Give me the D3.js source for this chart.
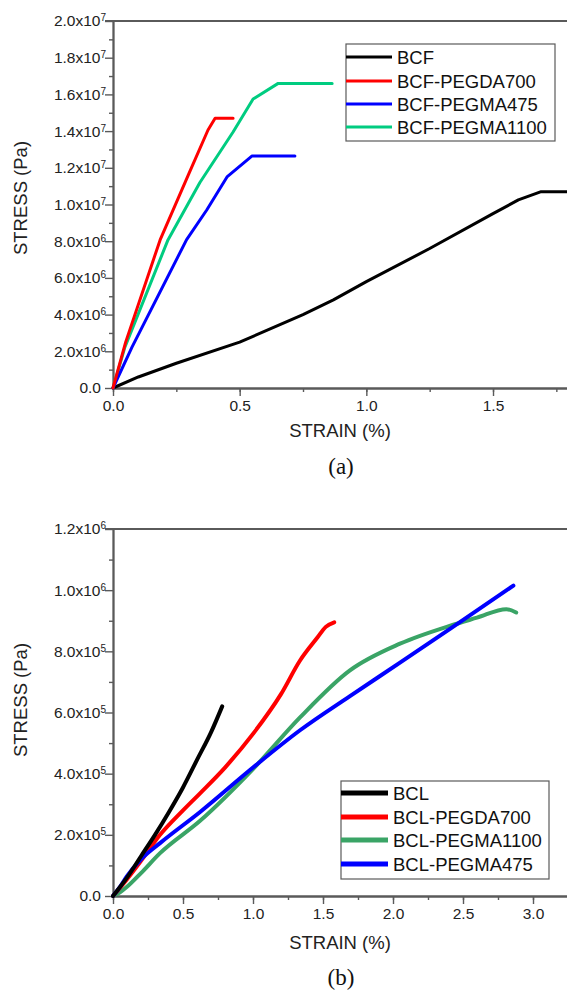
<!DOCTYPE html>
<html><head><meta charset="utf-8">
<script src="https://cdn.jsdelivr.net/npm/d3@7"></script>
<style>
html,body{margin:0;padding:0;background:#fff;}
svg{display:block;font-family:"Liberation Sans",Arial,sans-serif;}
</style></head>
<body>
<svg id="chart" width="567" height="990"></svg>
<script>
// ---------- DATA (a) ----------
const seriesA = ["BCF","BCF-PEGDA700","BCF-PEGMA475","BCF-PEGMA1100"];
const colorsA = ["#000000","#ff0000","#0000ff","#00cc80"];
const bcfStrain = [0,0.1,0.25,0.5,0.75,0.87,1.0,1.25,1.5,1.6,1.69,1.8];
const bcfStress = [0,0.6e6,1.35e6,2.5e6,4.0e6,4.8e6,5.8e6,7.6e6,9.5e6,1.025e7,1.07e7,1.07e7];
const pegda700Strain = [0,0.05,0.186,0.3,0.375,0.403,0.474];
const pegda700Stress = [0,2.5e6,8.07e6,1.17e7,1.406e7,1.47e7,1.47e7];
const pegma475Strain = [0,0.075,0.29,0.37,0.45,0.548,0.718];
const pegma475Stress = [0,2.23e6,8.07e6,9.7e6,1.15e7,1.264e7,1.264e7];
const pegma1100Strain = [0,0.047,0.217,0.343,0.474,0.553,0.652,0.865];
const pegma1100Stress = [0,2.23e6,8.07e6,1.12e7,1.395e7,1.575e7,1.66e7,1.66e7];
const xTicksA = [0,0.5,1.0,1.5];
const xTickLabelsA = ["0.0","0.5","1.0","1.5"];
const yTicksA = [0,2e6,4e6,6e6,8e6,1e7,1.2e7,1.4e7,1.6e7,1.8e7,2e7];
const yTickMantA = ["0.0","2.0","4.0","6.0","8.0","1.0","1.2","1.4","1.6","1.8","2.0"];
const yTickExpA  = ["","6","6","6","6","7","7","7","7","7","7"];

// ---------- DATA (b) ----------
const seriesB = ["BCL","BCL-PEGDA700","BCL-PEGMA1100","BCL-PEGMA475"];
const colorsB = ["#000000","#ff0000","#3aa466","#0000ff"];
const bclStrain = [0,0.1,0.2,0.3,0.4,0.5,0.6,0.7,0.78];
const bclStress = [0,0.6e5,1.3e5,2.0e5,2.75e5,3.55e5,4.45e5,5.35e5,6.2e5];
const bclDa700Strain = [0,0.1,0.2,0.336,0.5,0.62,0.8,1.0,1.2,1.336,1.46,1.52,1.58];
const bclDa700Stress = [0,0.55e5,1.15e5,2.0e5,2.8e5,3.35e5,4.2e5,5.3e5,6.6e5,7.7e5,8.45e5,8.8e5,8.95e5];
const bclMa1100Strain = [0,0.05,0.1,0.2,0.336,0.62,1.0,1.336,1.69,2.05,2.41,2.6,2.81,2.88];
const bclMa1100Stress = [0,0.12e5,0.3e5,0.75e5,1.4e5,2.45e5,4.15e5,5.84e5,7.37e5,8.25e5,8.84e5,9.1e5,9.38e5,9.27e5];
const bclMa475Strain = [0,0.05,0.1,0.2,0.336,0.62,1.0,1.336,1.69,2.05,2.41,2.86];
const bclMa475Stress = [0,0.3e5,0.65e5,1.2e5,1.73e5,2.74e5,4.2e5,5.42e5,6.53e5,7.63e5,8.74e5,1.015e6];
const xTicksB = [0,0.5,1.0,1.5,2.0,2.5,3.0];
const xTickLabelsB = ["0.0","0.5","1.0","1.5","2.0","2.5","3.0"];
const yTicksB = [0,2e5,4e5,6e5,8e5,1e6,1.2e6];
const yTickMantB = ["0.0","2.0","4.0","6.0","8.0","1.0","1.2"];
const yTickExpB  = ["","5","5","5","5","6","6"];

// ---------- DRAW ----------
const svg = d3.select("#chart");
const AX = "#5a5a5a";

function panel(cfg){
  const g = svg.append("g").attr("transform",`translate(${cfg.left},${cfg.top})`);
  const x = d3.scaleLinear().domain(cfg.xDomain).range([0,cfg.w]);
  const y = d3.scaleLinear().domain(cfg.yDomain).range([cfg.h,0]);

  g.append("line").attr("x1",-8).attr("x2",cfg.w).attr("y1",0).attr("y2",0)
    .attr("stroke",AX).attr("stroke-width",1.8);

  const xMinor = [];
  for(let v=0; v<=cfg.xDomain[1]+1e-9; v+=cfg.xMinorStep/2) xMinor.push(+v.toFixed(4));
  const yMinor = [];
  for(let i=0;i<cfg.yTicks.length-1;i++) yMinor.push((cfg.yTicks[i]+cfg.yTicks[i+1])/2);

  const gxm = g.append("g").attr("transform",`translate(0,${cfg.h})`)
    .call(d3.axisBottom(x).tickValues(xMinor).tickSize(4).tickSizeOuter(0).tickFormat(""));
  const gym = g.append("g")
    .call(d3.axisLeft(y).tickValues(yMinor).tickSize(4).tickSizeOuter(0).tickFormat(""));

  const gx = g.append("g").attr("transform",`translate(0,${cfg.h})`)
    .call(d3.axisBottom(x).tickValues(cfg.xTicks).tickSize(8).tickSizeOuter(0)
      .tickFormat((d,i)=>cfg.xTickLabels[i]));
  const gy = g.append("g")
    .call(d3.axisLeft(y).tickValues(cfg.yTicks).tickSize(8).tickSizeOuter(0)
      .tickFormat((d,i)=>cfg.yTickMant[i] + (cfg.yTickExp[i] ? "x10" : "")));

  [gxm,gym,gx,gy].forEach(a=>{
    a.selectAll("path").attr("stroke",AX).attr("stroke-width",1.8);
    a.selectAll("line").attr("stroke",AX).attr("stroke-width",1.4);
  });
  gx.selectAll("text").attr("font-size",15.5).attr("fill","#222").attr("dy","1.0em").attr("y",7)
    .attr("font-family","Liberation Sans, Arial, sans-serif");
  gy.selectAll("text").attr("font-size",15.5).attr("fill","#222").attr("x",-12)
    .attr("font-family","Liberation Sans, Arial, sans-serif")
    .each(function(d,i){
      const e = cfg.yTickExp[i];
      if(e){
        d3.select(this).append("tspan").attr("dy","-0.5em").attr("font-size",10).text(e);
        d3.select(this).attr("x",-7);
      }
    });

  const line = d3.line().x(d=>x(d[0])).y(d=>y(d[1])).curve(cfg.curve);
  cfg.order.forEach(i=>{
    const s = cfg.series[i];
    const pts = s.strain.map((v,k)=>[v,s.stress[k]]);
    g.append("path").datum(pts).attr("d",line).attr("fill","none")
      .attr("stroke",cfg.colors[i]).attr("stroke-width",cfg.lw)
      .attr("stroke-linejoin","round").attr("stroke-linecap","round");
  });

  svg.append("text").attr("transform",`translate(${cfg.yLabelX},${cfg.yLabelY}) rotate(-90)`)
    .attr("text-anchor","middle").attr("dominant-baseline","central")
    .attr("font-size",18.5).attr("fill","#222").text("STRESS (Pa)");
  svg.append("text").attr("x",340).attr("y",cfg.xLabelY)
    .attr("text-anchor","middle").attr("dominant-baseline","central")
    .attr("font-size",18.5).attr("fill","#222").text("STRAIN (%)");
  svg.append("text").attr("x",341).attr("y",cfg.capY)
    .attr("text-anchor","middle").attr("dominant-baseline","central")
    .attr("font-family","Liberation Serif, Times New Roman, serif")
    .attr("font-size",23).attr("fill","#111").text(cfg.caption);

  const L = cfg.legend;
  svg.append("rect").attr("x",L.x).attr("y",L.y).attr("width",L.w).attr("height",L.h)
    .attr("fill","#fff").attr("stroke",AX).attr("stroke-width",1.2);
  cfg.names.forEach((n,i)=>{
    const cy = L.rowY[i];
    svg.append("line").attr("x1",L.x).attr("x2",L.x+L.lineLen).attr("y1",cy).attr("y2",cy)
      .attr("stroke",cfg.colors[i]).attr("stroke-width",L.lw);
    svg.append("text").attr("x",L.x+L.lineLen+5).attr("y",cy)
      .attr("dominant-baseline","central").attr("font-size",L.fs).attr("fill","#111").text(n);
  });
}

panel({
  left:113, top:21, w:455, h:367,
  xDomain:[0,1.796], yDomain:[0,2e7], xMinorStep:0.5,
  xTicks:xTicksA, xTickLabels:xTickLabelsA,
  yTicks:yTicksA, yTickMant:yTickMantA, yTickExp:yTickExpA,
  series:[
    {strain:bcfStrain, stress:bcfStress},
    {strain:pegda700Strain, stress:pegda700Stress},
    {strain:pegma475Strain, stress:pegma475Stress},
    {strain:pegma1100Strain, stress:pegma1100Stress}
  ],
  order:[0,3,2,1], colors:colorsA, names:seriesA, lw:3, curve:d3.curveLinear,
  yLabelX:20, yLabelY:198, xLabelY:430, capY:466, caption:"(a)",
  legend:{x:346,y:44,w:209,h:97,rowY:[57,81,104,127],lineLen:46,lw:3,fs:18.5}
});

panel({
  left:113, top:529, w:455, h:367,
  xDomain:[0,3.25], yDomain:[0,1.2e6], xMinorStep:0.5,
  xTicks:xTicksB, xTickLabels:xTickLabelsB,
  yTicks:yTicksB, yTickMant:yTickMantB, yTickExp:yTickExpB,
  series:[
    {strain:bclStrain, stress:bclStress},
    {strain:bclDa700Strain, stress:bclDa700Stress},
    {strain:bclMa1100Strain, stress:bclMa1100Stress},
    {strain:bclMa475Strain, stress:bclMa475Stress}
  ],
  order:[2,1,3,0], colors:colorsB, names:seriesB, lw:4, curve:d3.curveMonotoneX,
  yLabelX:20, yLabelY:700, xLabelY:942, capY:977, caption:"(b)",
  legend:{x:341,y:781,w:208,h:98,rowY:[793,817,840,864],lineLen:47,lw:5,fs:18.5}
});
</script>
</body></html>
